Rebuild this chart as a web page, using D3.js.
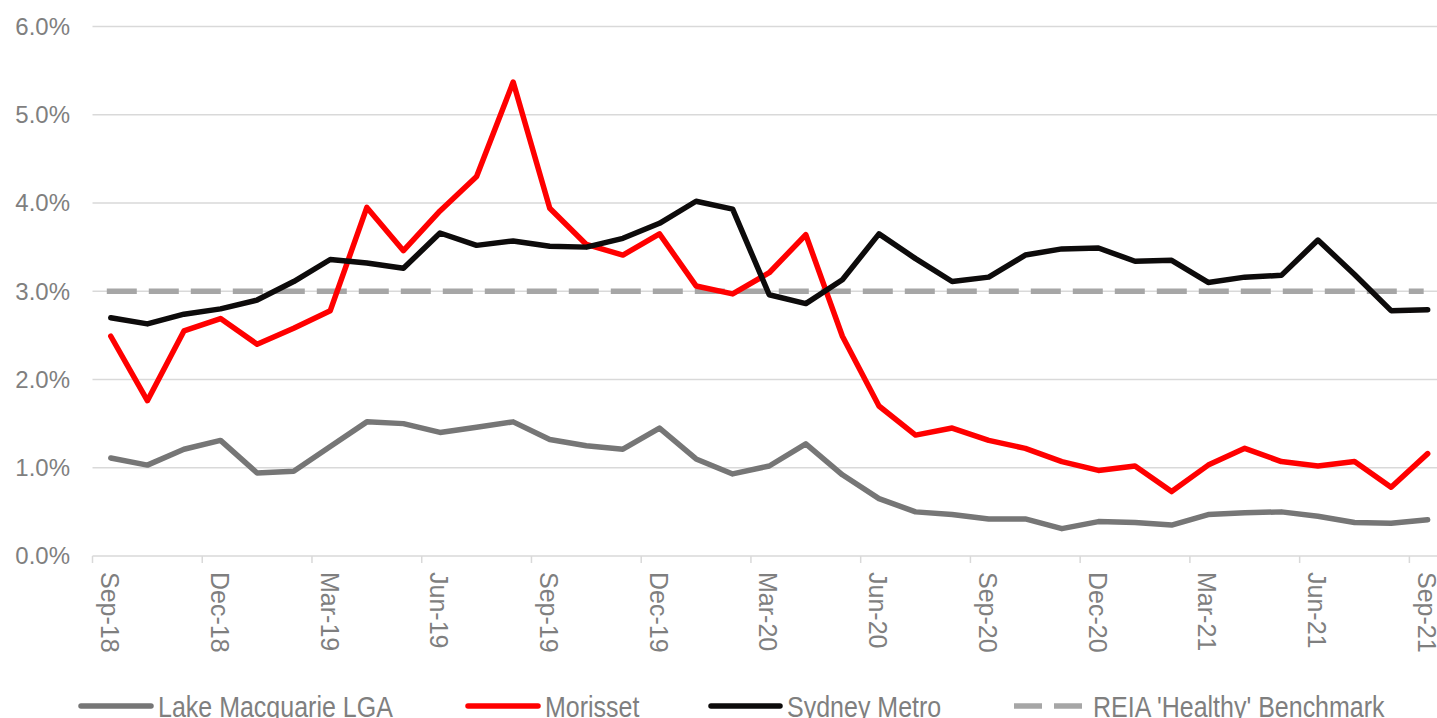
<!DOCTYPE html>
<html>
<head>
<meta charset="utf-8">
<script src="https://d3js.org/d3.v7.min.js"></script>
<style>
  body { margin: 0; background: #fff; }
  svg { display: block; font-family: "Liberation Sans", Arial, sans-serif; }
</style>
</head>
<body>
<svg id="vis" width="1437" height="718"></svg>
<script>
// months on the category axis
var months = ["Sep-18","Oct-18","Nov-18","Dec-18","Jan-19","Feb-19","Mar-19","Apr-19","May-19",
  "Jun-19","Jul-19","Aug-19","Sep-19","Oct-19","Nov-19","Dec-19","Jan-20","Feb-20","Mar-20",
  "Apr-20","May-20","Jun-20","Jul-20","Aug-20","Sep-20","Oct-20","Nov-20","Dec-20","Jan-21",
  "Feb-21","Mar-21","Apr-21","May-21","Jun-21","Jul-21","Aug-21","Sep-21"];

// vacancy rates, %
var lakeMacquarie = [1.11,1.03,1.21,1.31,0.94,0.96,1.24,1.52,1.50,1.40,1.46,1.52,1.32,1.25,1.21,1.45,
  1.10,0.93,1.02,1.27,0.92,0.65,0.50,0.47,0.42,0.42,0.31,0.39,0.38,0.35,0.47,0.49,0.50,0.45,0.38,0.37,0.41];
var morisset = [2.49,1.76,2.55,2.69,2.40,2.58,2.78,3.95,3.46,3.91,4.30,5.37,3.94,3.53,3.41,3.65,
  3.06,2.97,3.21,3.64,2.49,1.70,1.37,1.45,1.31,1.22,1.07,0.97,1.02,0.73,1.03,1.22,1.07,1.02,1.07,0.78,1.16];
var sydneyMetro = [2.70,2.63,2.74,2.80,2.90,3.11,3.36,3.32,3.26,3.66,3.52,3.57,3.51,3.50,3.60,3.77,
  4.02,3.93,2.96,2.86,3.13,3.65,3.37,3.11,3.16,3.41,3.48,3.49,3.34,3.35,3.10,3.16,3.18,3.58,3.19,2.78,2.79];
var benchmark = 3.0;

var yTicks = [0,1,2,3,4,5,6];
var tickMonths = months.filter(function(d, i) { return i % 3 == 0; });

var svg = d3.select("#vis");

var x = d3.scaleBand()
    .domain(months)
    .range([92.5, 92.5 + 37 * 36.58])
    .paddingInner(0);
var cx = function(m) { return x(m) + x.bandwidth() / 2; };

var y = d3.scaleLinear()
    .domain([0, 6])
    .range([556, 26.5]);

// gridlines
svg.append("g").selectAll("line")
  .data(yTicks)
  .enter().append("line")
    .attr("x1", 92.5).attr("x2", 1437)
    .attr("y1", function(d) { return y(d); })
    .attr("y2", function(d) { return y(d); })
    .attr("stroke", "#d9d9d9")
    .attr("stroke-width", 1.5);

// y labels
svg.append("g").selectAll("text")
  .data(yTicks)
  .enter().append("text")
    .attr("x", 70)
    .attr("y", function(d) { return y(d); })
    .attr("dy", "0.35em")
    .attr("text-anchor", "end")
    .attr("fill", "#7f7f7f")
    .style("font-size", "24px")
    .text(function(d) { return d.toFixed(1) + "%"; });

// x tick marks
svg.append("g").selectAll("line")
  .data(tickMonths)
  .enter().append("line")
    .attr("x1", function(d) { return x(d); })
    .attr("x2", function(d) { return x(d); })
    .attr("y1", 556).attr("y2", 563)
    .attr("stroke", "#d9d9d9")
    .attr("stroke-width", 1.5);

// x labels, rotated
svg.append("g").selectAll("text")
  .data(tickMonths)
  .enter().append("text")
    .attr("transform", function(d) { return "translate(" + (cx(d) - 1) + ",572) rotate(90)"; })
    .attr("dy", "0.35em")
    .attr("fill", "#7f7f7f")
    .style("font-size", "25px")
    .text(function(d) { return d; });

var line = d3.line()
    .x(function(d, i) { return cx(months[i]); })
    .y(function(d) { return y(d); });

// benchmark
svg.append("path")
  .datum(months.map(function() { return benchmark; }))
  .attr("d", line)
  .attr("fill", "none")
  .attr("stroke", "#a6a6a6")
  .attr("stroke-width", 5.5)
  .attr("stroke-dasharray", "30,12")
  .attr("transform", "translate(-4,0)");

var series = [
  {name: "Lake Macquarie LGA", values: lakeMacquarie, color: "#767676"},
  {name: "Morisset", values: morisset, color: "#ff0000"},
  {name: "Sydney Metro", values: sydneyMetro, color: "#0d0b0b"}
];

series.forEach(function(s) {
  svg.append("path")
    .datum(s.values)
    .attr("d", line)
    .attr("fill", "none")
    .attr("stroke", s.color)
    .attr("stroke-width", 5.5)
    .attr("stroke-linejoin", "round")
    .attr("stroke-linecap", "round");
});

// legend
var legend = [
  {name: "Lake Macquarie LGA", color: "#767676", x1: 81, x2: 151, dash: null},
  {name: "Morisset", color: "#ff0000", x1: 468, x2: 538, dash: null},
  {name: "Sydney Metro", color: "#0d0b0b", x1: 711, x2: 780, dash: null},
  {name: "REIA 'Healthy' Benchmark", color: "#a6a6a6", x1: 1014, x2: 1086, dash: "28,12"}
];
var lg = svg.append("g").selectAll("g")
  .data(legend)
  .enter().append("g");
lg.append("line")
  .attr("x1", function(d) { return d.x1; })
  .attr("x2", function(d) { return d.x2; })
  .attr("y1", 706).attr("y2", 706)
  .attr("stroke", function(d) { return d.color; })
  .attr("stroke-width", 5.5)
  .attr("stroke-linecap", function(d) { return d.dash ? "butt" : "round"; })
  .attr("stroke-dasharray", function(d) { return d.dash; });
lg.append("text")
  .attr("transform", function(d) { return "translate(" + (d.x2 + 7) + ",706) scale(1,1.2)"; })
  .attr("dy", "0.35em")
  .attr("fill", "#7f7f7f")
  .style("font-size", "25px")
  .text(function(d) { return d.name; });
</script>
</body>
</html>
